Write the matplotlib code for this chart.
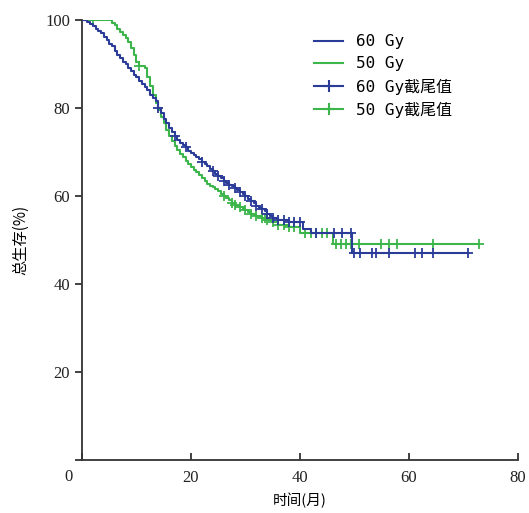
import numpy as np
import matplotlib.pyplot as plt
from matplotlib.lines import Line2D

plt.rcParams['font.family'] = ['Liberation Serif', 'Noto Sans CJK SC']

# 60 Gy 组 (生存曲线阶梯点)
t_60 = [0, 1, 1.5, 2, 2.5, 3, 3.5, 4, 4.5, 5, 5.5, 6, 6.5, 7, 7.5, 8, 8.5, 9, 9.5, 10,
        10.5, 11, 11.5, 12, 12.5, 13, 13.5, 14, 14.5, 15, 15.5, 16, 16.5, 17, 17.5, 18, 18.5, 19, 19.5, 20,
        20.5, 21, 21.5, 22, 22.5, 23, 23.5, 24, 24.5, 25, 25.5, 26, 26.5, 27, 27.5, 28, 28.5, 29, 29.5, 30,
        30.5, 31, 31.5, 32, 32.5, 33, 33.5, 34, 34.5, 35, 36, 38, 40.5, 42, 49.5, 70.8]
s_60 = [100, 99.5, 99, 98.5, 98, 97.5, 97, 96, 95.5, 94.5, 94, 93, 92, 91.3, 90.5, 90, 89, 88.3, 87.5, 87,
        86, 85.5, 84.8, 84, 83, 82.3, 81.5, 80, 78.8, 77.5, 76.5, 75.5, 74.5, 73.5, 72.8, 72, 71.5, 71, 70.3, 69.8,
        69.3, 68.8, 68.3, 67.8, 67.2, 66.8, 66.2, 65.7, 65, 64.5, 64, 63.5, 63, 62.5, 62.2, 61.8, 61.3, 61, 60.5, 60,
        59.3, 58.8, 58.3, 57.8, 57.3, 57, 56.5, 56, 55.5, 55, 54.5, 54, 52.5, 51.6, 47, 47]
c_60 = [14, 17, 19, 22, 24, 25, 26, 27, 28, 29, 30, 31, 32, 33, 34, 35, 36, 37, 38, 39, 40,
        43, 46.2, 47.7, 49.4, 49.9, 51, 53.2, 53.9, 56.3, 61.1, 62.4, 64.4, 70.8]

# 50 Gy 组
t_50 = [0, 5, 5.5, 6, 6.5, 7, 7.5, 8, 8.5, 9, 9.5, 10, 10.5, 11.5, 12, 12.5, 13, 13.5, 14, 14.5,
        15, 15.5, 16, 16.5, 17, 17.5, 18, 18.5, 19, 19.5, 20, 20.5, 21, 21.5, 22, 22.5, 23, 23.5, 24, 24.5,
        25, 25.5, 26, 26.5, 27, 27.5, 28, 28.5, 29, 29.5, 30, 30.5, 31, 31.5, 32, 33, 34, 35, 36, 38,
        40, 46, 72.8]
s_50 = [100, 100, 99.3, 98.8, 98, 97.3, 96.5, 95.8, 95, 93.5, 92, 90.5, 89.5, 89, 87, 85, 83, 81, 79.5, 78,
        76.5, 75, 73.5, 72.5, 71.3, 70.5, 69.5, 68.8, 68, 67.3, 66.6, 66, 65.5, 64.8, 64, 63.3, 62.7, 62.3, 62, 61.6,
        61.2, 60.5, 60, 59.5, 59, 58.5, 58, 57.7, 57.4, 57, 56.7, 56.3, 56, 55.7, 55.4, 55, 54.5, 54, 53.4, 53,
        51.6, 49, 49]
c_50 = [2, 10.5, 26, 27.5, 28, 29, 30, 31, 32, 33, 33.5, 34, 35, 36, 37, 38, 39, 41, 42, 43, 44, 45,
        46.6, 47.5, 48.5, 49.4, 50.8, 54.9, 56.3, 57.8, 64.4, 72.8]

blue = '#2a3b98'
green = '#3cb54b'


def surv_at(t, s, c):
    idx = np.searchsorted(t, c, side='right') - 1
    return np.array(s)[idx]


fig = plt.figure(figsize=(5.29, 5.13), dpi=100)
ax = fig.add_axes([0.155, 0.1033, 0.824, 0.858])

ax.step(t_60, s_60, where='post', color=blue, lw=1.5, zorder=3)
ax.step(t_50, s_50, where='post', color=green, lw=1.5, zorder=2)
ax.plot(c_60, surv_at(t_60, s_60, c_60), '+', color=blue, ms=7, mew=1.3, zorder=3)
ax.plot(c_50, surv_at(t_50, s_50, c_50), '+', color=green, ms=7, mew=1.3, zorder=2)

ax.set_xlim(0, 80)
ax.set_ylim(0, 100)
ax.set_xticks([0, 20, 40, 60, 80])
ax.set_xticklabels(['', '20', '40', '60', '80'])
ax.set_yticks([0, 20, 40, 60, 80, 100])
ax.set_yticklabels(['', '20', '40', '60', '80', '100'])
ax.annotate('0', (0, 0), xytext=(-10, -12), textcoords='offset points',
            ha='center', va='center', fontsize=12, color='#222222')

for sp in ['top', 'right']:
    ax.spines[sp].set_visible(False)
for sp in ['left', 'bottom']:
    ax.spines[sp].set_linewidth(1.3)
    ax.spines[sp].set_color('#333333')
ax.tick_params(axis='x', direction='in', length=5, width=1.3, colors='#333333',
               labelcolor='#222222', labelsize=12, pad=7)
ax.tick_params(axis='y', direction='out', length=5, width=1.3, colors='#333333',
               labelcolor='#222222', labelsize=12)

ax.set_xlabel('时间(月)', family=['Noto Sans CJK SC'], fontsize=10.5, labelpad=5)
ax.set_ylabel('总生存(%)', family=['Noto Sans CJK SC'], fontsize=11, labelpad=12)

handles = [Line2D([], [], color=blue, lw=1.5),
           Line2D([], [], color=green, lw=1.5),
           Line2D([], [], color=blue, lw=1.5, marker='+', ms=9, mew=1.5),
           Line2D([], [], color=green, lw=1.5, marker='+', ms=9, mew=1.5)]
labels = ['60 Gy', '50 Gy', '60 Gy截尾值', '50 Gy截尾值']
ax.legend(handles, labels, loc='upper left', bbox_to_anchor=(0.5, 1.0), frameon=False,
          handlelength=1.8, labelspacing=0.45,
          prop={'family': ['DejaVu Sans Mono', 'Noto Sans CJK SC'], 'size': 11.5})

fig.savefig('out.png', dpi=100, facecolor='white')
